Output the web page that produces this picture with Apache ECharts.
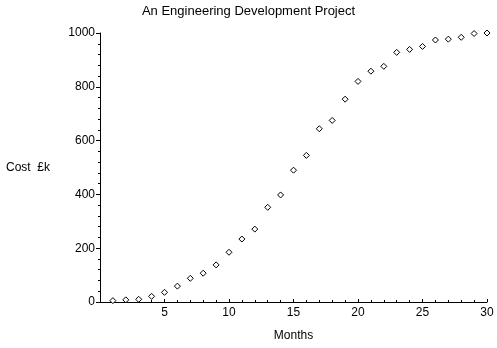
<!DOCTYPE html>
<html>
<head>
<meta charset="utf-8">
<script src="https://cdn.jsdelivr.net/npm/echarts@6/dist/echarts.min.js"></script>
<style>
html,body{margin:0;padding:0;background:#fff;}
#c{width:497px;height:348px;}
</style>
</head>
<body>
<div id="c"></div>
<script>
const months = [1,2,3,4,5,6,7,8,9,10,11,12,13,14,15,16,17,18,19,20,21,22,23,24,25,26,27,28,29,30];
const cost = [5,8,10,21,36,59,88,107,138,185,234,271,352,398,490,545,644,675,754,820,858,876,928,939,950,974,977,984,998,1000];
const titleText = 'An Engineering Development Project';
const xName = 'Months';
const yName = 'Cost  £k';

const font = 'Liberation Sans, Arial, sans-serif';
const chart = echarts.init(document.getElementById('c'), null, {renderer:'canvas'});
chart.setOption({
  animation:false,
  backgroundColor:'#fff',
  title:{text:titleText,left:'center',top:0,textStyle:{fontFamily:font,fontSize:13,fontWeight:'normal',color:'#000'}},
  grid:{left:100,right:10,top:33,bottom:46,containLabel:false},
  xAxis:{
    type:'value',min:0,max:30,interval:5,
    name:xName,nameLocation:'middle',nameGap:28,
    nameTextStyle:{fontFamily:font,fontSize:12,color:'#000'},
    axisLine:{show:true,onZero:false,lineStyle:{color:'#000',width:1}},
    axisTick:{show:true,inside:true,length:3,lineStyle:{color:'#000'}},
    minorTick:{show:true,splitNumber:5,length:2,lineStyle:{color:'#000'}},
    splitLine:{show:false},
    axisLabel:{showMinLabel:false,fontFamily:font,fontSize:12,color:'#000',margin:5,formatter:v=>String(v)}
  },
  yAxis:{
    type:'value',min:0,max:1000,interval:200,
    name:yName,nameLocation:'middle',nameRotate:0,nameGap:50,
    nameTextStyle:{fontFamily:font,fontSize:12,color:'#000'},
    axisLine:{show:true,lineStyle:{color:'#000',width:1}},
    axisTick:{show:true,inside:false,length:4,lineStyle:{color:'#000'}},
    minorTick:{show:true,splitNumber:5,length:2,lineStyle:{color:'#000'}},
    splitLine:{show:false},
    axisLabel:{fontFamily:font,fontSize:12,color:'#000',margin:5,formatter:v=>String(v)}
  },
  series:[{
    type:'scatter',
    data:months.map((m,i)=>[m,cost[i]]),
    symbol:'diamond',symbolSize:6,
    itemStyle:{color:'#fff',borderColor:'#000',borderWidth:1,opacity:1}
  }]
});
</script>
</body>
</html>
